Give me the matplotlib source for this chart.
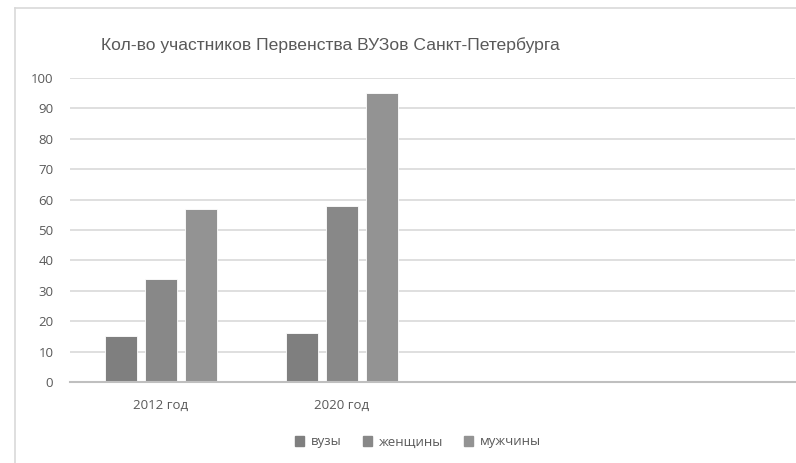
import matplotlib.pyplot as plt
import numpy as np
from matplotlib.lines import Line2D

plt.rcParams['font.family'] = ['Open Sans', 'DejaVu Sans']

# данные
categories = ["2012 год", "2020 год", "", ""]
series_names = ["вузы", "женщины", "мужчины"]
vuzy = [15, 16, None, None]
zhenshchiny = [34, 58, None, None]
muzhchiny = [57, 95, None, None]
series_colors = ["#7f7f7f", "#888888", "#939393"]

W, H = 796, 463
fig = plt.figure(figsize=(W / 100, H / 100), dpi=100)

# рамка диаграммы
fig.add_artist(Line2D([15 / W, 15 / W], [0, 1 - 8 / H], color="#d9d9d9", lw=1.2))
fig.add_artist(Line2D([15 / W, 1], [1 - 8 / H, 1 - 8 / H], color="#d9d9d9", lw=1.2))

ax = fig.add_axes([70 / W, 1 - 382 / H, (795 - 70) / W, (382 - 78) / H])

x = np.arange(len(categories))
step = 0.221
width = 0.177
for i, (name, vals, col) in enumerate(zip(series_names, [vuzy, zhenshchiny, muzhchiny], series_colors)):
    xs = [xi + (i - 1) * step for xi, v in zip(x, vals) if v is not None]
    ys = [v for v in vals if v is not None]
    ax.bar(xs, ys, width=width, color=col, edgecolor="white", linewidth=0.6, label=name, zorder=3)

ax.set_xlim(-0.5, len(categories) - 0.5)
ax.set_ylim(0, 100)
ax.set_yticks(range(0, 101, 10))
ax.set_xticks(x)
ax.set_xticklabels(categories)
ax.grid(axis="y", color="#d9d9d9", lw=1.2, zorder=0)
for s in ["top", "right", "left"]:
    ax.spines[s].set_visible(False)
ax.spines["bottom"].set_color("#bfbfbf")
ax.spines["bottom"].set_linewidth(1.5)
ax.spines["bottom"].set_zorder(4)
ax.tick_params(axis="both", length=0, colors="#595959", labelsize=9.5)
ax.tick_params(axis="y", pad=12)
ax.tick_params(axis="x", pad=12)

fig.text(330 / W, 1 - 45 / H, "Кол-во участников Первенства ВУЗов Санкт-Петербурга",
         ha="center", va="center", fontsize=12.6, color="#595959",
         family=["Liberation Sans", "DejaVu Sans"])

handles = [plt.Rectangle((0, 0), 1, 1, color=c) for c in series_colors]
fig.legend(handles, series_names, loc="center", bbox_to_anchor=(418 / W, 1 - 442 / H),
           ncol=3, frameon=False, fontsize=9.5, labelcolor="#595959",
           handlelength=0.7, handleheight=0.7, handletextpad=0.5, columnspacing=1.6)

fig.savefig("out.png", dpi=100)
